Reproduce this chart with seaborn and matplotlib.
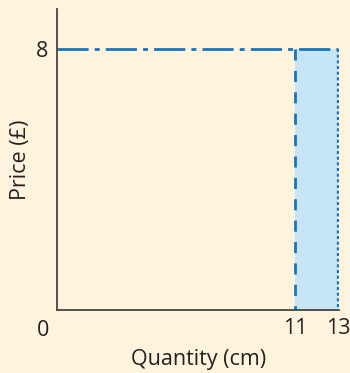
import pandas as pd
import matplotlib.pyplot as plt
import seaborn as sns

# Values
price = 8
qty_old = 11
qty_new = 13
x_ticks = [11, 13]
y_ticks = [8]

bg = '#fef3dc'
blue = '#1776bf'
fill = '#c6e6f8'

sns.set_style('white')
plt.rcParams['font.family'] = ['Open Sans', 'DejaVu Sans']

fig = plt.figure(figsize=(3.5, 3.73), dpi=100, facecolor=bg)
ax = fig.add_axes([0.163, 0.169, 0.806, 0.807])
ax.set_facecolor(bg)

# shaded extra quantity
ax.fill_between([qty_old, qty_new], 0, price, color=fill, lw=0)

# price line (dash-dot)
hline = pd.DataFrame({'q': [0, qty_new], 'p': [price, price]})
sns.lineplot(data=hline, x='q', y='p', ax=ax, color=blue, lw=2.0)
ax.lines[-1].set_dashes([11.2, 2.2, 1.8, 2.2])

# vertical at old quantity (dashed), drawn from the top down
v1 = pd.DataFrame({'q': [qty_old, qty_old], 'p': [price, 0]})
sns.lineplot(data=v1, x='q', y='p', ax=ax, color=blue, lw=2.0, orient='y', sort=False)
ax.lines[-1].set_dashes([4.0, 3.7])

# vertical at new quantity (dotted)
v2 = pd.DataFrame({'q': [qty_new, qty_new], 'p': [price, 0]})
sns.lineplot(data=v2, x='q', y='p', ax=ax, color=blue, lw=1.7, orient='y', sort=False)
ax.lines[-1].set_dashes([1.3, 1.1])

ax.set_xlim(0, 13.05)
ax.set_ylim(0, 9.23)
ax.set_xticks(x_ticks)
ax.set_yticks(y_ticks)
ax.tick_params(length=0, labelsize=15.5, colors='#222222', pad=6)
ax.text(-0.65, -0.3, '0', ha='center', va='top', fontsize=15.5, color='#222222')

for s in ['top', 'right']:
    ax.spines[s].set_visible(False)
for s in ['left', 'bottom']:
    ax.spines[s].set_color('#444444')
    ax.spines[s].set_linewidth(1.3)

ax.set_xlabel('Quantity (cm)', fontsize=15.5, color='#222222', labelpad=7)
ax.set_ylabel('Price (£)', fontsize=15.5, color='#222222', labelpad=4)

fig.savefig('out.png', dpi=100, facecolor=bg)
